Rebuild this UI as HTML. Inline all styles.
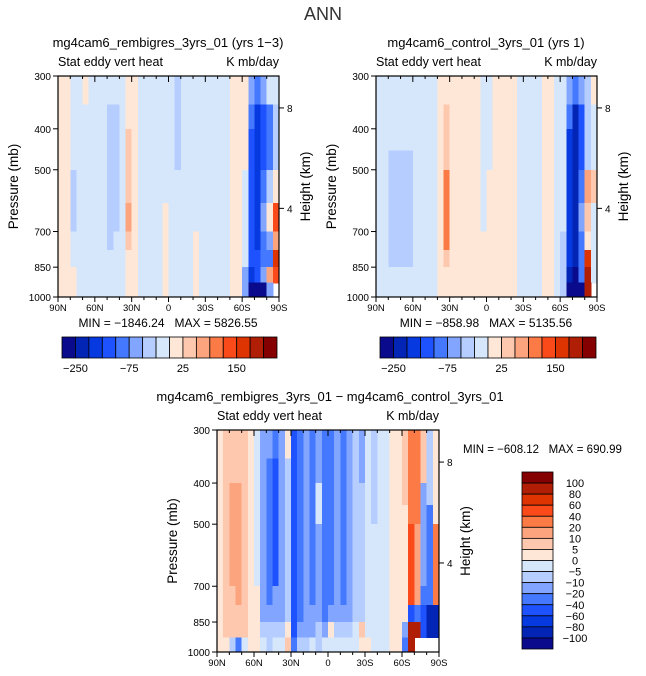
<!DOCTYPE html>
<html><head><meta charset="utf-8">
<style>
html,body{margin:0;padding:0;background:#fff;}
svg{display:block;font-family:"Liberation Sans","DejaVu Sans",sans-serif;}
</style></head>
<body>
<svg id="fig" width="646" height="676" viewBox="0 0 646 676" xmlns="http://www.w3.org/2000/svg">
<text x="323" y="20" font-size="18" text-anchor="middle" fill="#333">ANN</text>
</svg>
<script>
// ---- data ----
const lats = [87.5,82.5,77.5,72.5,67.5,62.5,57.5,52.5,47.5,42.5,37.5,32.5,27.5,22.5,17.5,12.5,7.5,2.5,-2.5,-7.5,-12.5,-17.5,-22.5,-27.5,-32.5,-37.5,-42.5,-47.5,-52.5,-57.5,-62.5,-67.5,-72.5,-77.5,-82.5,-87.5];
const pBounds = [300,350,400,450,500,600,700,775,850,925,1000];
const xTickVals = [90,60,30,0,-30,-60,-90];
const xTickLabels = ["90N","60N","30N","0","30S","60S","90S"];
const pTickVals = [300,400,500,700,850,1000];
const zTickP = [357,617];
const zTickLabels = ["8","4"];
const levelsTop = [-250,-200,-150,-100,-75,-50,-25,0,25,50,75,100,150,200,250];
const levelsDiff = [-100,-80,-60,-40,-20,-10,-5,0,5,10,20,40,60,80,100];
const topBarLabels = ["-250","-75","25","150"];
const diffBarLabels = ["100","80","60","40","20","10","5","0","-5","-10","-20","-40","-60","-80","-100"];
const palette = ["#0a0a8c","#0325b5","#0639e0","#1f52ff","#4479ff","#82a6ff","#b6cdff","#d6e7fc","#fee7d6","#fdc8ad","#fca47e","#fc7a45","#fb4a1a","#dd3402","#b01e05","#850000"];

// rows: 300-350 ... 925-1000 ; columns 90N -> 90S
const valsLeft = [
[10,10,-10,-10,10,-10,-10,-10,-10,-10,-10,10,10,-10,-10,-10,-10,-10,-10,-35,-10,-10,-10,-10,-10,-10,-10,-10,10,10,10,-60,-90,-60,-10,-10],
[10,10,-10,-10,-10,-10,-10,-10,-35,-35,-10,10,10,-10,-10,-10,-10,-10,-10,-35,-10,-10,-10,-10,-10,-10,-10,-10,10,10,10,-90,-170,-120,-90,-40],
[10,10,-10,-10,-10,-10,-10,-10,-35,-35,-10,35,10,-10,-10,-10,-10,-10,-10,-35,-10,-10,-10,-10,-10,-10,-10,-10,10,10,10,-120,-170,-120,-90,-40],
[10,10,-10,-10,-10,-10,-10,-10,-35,-35,-10,35,10,-10,-10,-10,-10,-10,-10,-35,-10,-10,-10,-10,-10,-10,-10,-10,10,10,10,-120,-170,-120,-90,-40],
[10,10,-35,-10,-10,-10,-10,-10,-35,-35,-10,35,10,-10,-10,-10,-10,-10,-10,-10,-10,-10,-10,-10,-10,-10,-10,-10,10,10,-10,-120,-170,-90,-40,10],
[10,10,-35,-10,-10,-10,-10,-10,-35,-35,-10,60,10,-10,-10,-10,-10,10,-10,-10,-10,-10,-10,-10,-10,-10,-10,-10,10,10,-10,-120,-170,-60,10,120],
[10,10,-10,-10,-10,-10,-10,-10,-35,-10,-10,35,10,-10,-10,-10,-10,10,-10,-10,-10,-10,10,-10,-10,-10,-10,-10,10,10,-10,-120,-170,-90,-60,60],
[10,10,-10,-10,-10,-10,-10,-10,-10,-10,-10,10,10,-10,-10,-10,-10,10,-10,-10,-10,-10,10,-10,-10,-10,-10,-10,10,10,-10,-120,-120,-90,-90,175],
[10,10,10,-10,-10,-10,-10,-10,-10,-10,-10,10,10,-10,-10,-10,-10,10,-10,-10,-10,-10,10,-10,-10,-10,-10,-10,10,10,-60,-170,-120,-60,60,120],
[10,10,10,-10,-10,-10,-10,-10,-10,-10,-10,10,10,-10,-10,-10,-10,10,-10,-10,-10,-10,10,-10,-10,-10,-10,-10,10,10,-60,-300,-300,-300,-60,null]
];
const valsRight = [
[-10,-10,-10,-10,-10,-10,-10,-10,-10,-10,10,10,10,10,10,10,10,-10,-10,10,10,10,10,-10,-10,-10,-10,10,10,-10,-10,-60,-90,-60,-35,10],
[-10,-10,-10,-10,-10,-10,-10,-10,-10,-10,10,40,10,10,10,10,10,-10,-10,10,10,10,10,-10,-10,-10,-10,10,10,-10,-10,-90,-220,-120,-35,-10],
[-10,-10,-10,-10,-10,-10,-10,-10,-10,-10,10,40,10,10,10,10,10,-10,-10,10,10,10,10,-10,-10,-10,-10,10,10,-10,-10,-170,-220,-120,-35,-10],
[-10,-10,-35,-35,-35,-35,-10,-10,-10,-10,10,40,10,10,10,10,10,-10,-10,10,10,10,10,-10,-10,-10,-10,10,10,-10,-10,-170,-220,-120,-35,-10],
[-10,-10,-35,-35,-35,-35,-10,-10,-10,-10,10,80,10,10,10,10,10,-10,10,10,10,10,10,-10,-10,-10,-10,10,10,-10,-10,-170,-220,-90,60,40],
[-10,-10,-35,-35,-35,-35,-10,-10,-10,-10,10,80,10,10,10,10,10,-10,10,10,10,10,10,-10,-10,-10,-10,10,10,-10,-10,-170,-220,-60,40,-10],
[-10,-10,-35,-35,-35,-35,-10,-10,-10,-10,10,80,10,10,10,10,10,10,10,10,10,10,10,-10,-10,-10,-10,10,10,-10,-35,-170,-220,-90,10,-10],
[-10,-10,-35,-35,-35,-35,-10,-10,-10,-10,10,40,10,10,10,10,10,10,10,10,10,10,10,-10,-10,-10,-10,10,10,-10,-35,-170,-220,-90,175,-10],
[-10,-10,-10,-10,-10,-10,-10,-10,-10,-10,10,10,10,10,10,10,10,10,10,10,10,10,10,-10,-10,-10,-10,10,10,-10,-35,-220,-300,-90,220,-10],
[-10,-10,-10,-10,-10,-10,-10,-10,-10,-10,10,10,10,10,10,10,10,10,10,10,10,10,10,-10,-10,-10,-10,10,10,-10,-35,-300,-300,-300,220,null]
];
const valsDiff = [
[3,7,7,7,7,3,-3,-15,-15,-30,-15,3,-50,-30,-15,-30,-15,-30,-30,-15,-30,-15,-8,-15,-3,-8,-3,-3,3,3,7,30,30,7,-8,3],
[3,7,7,7,7,3,-3,-15,-30,-50,-15,-8,-50,-30,-15,-30,-15,-30,-30,-15,-30,-15,-8,-15,-3,-8,-3,-3,3,3,7,30,30,7,-8,3],
[3,7,15,15,7,3,-3,-15,-30,-50,-15,-8,-50,-30,-15,-30,-3,-30,-30,-15,-30,-15,-8,-8,-3,-8,-3,-3,3,3,7,30,30,-15,-8,3],
[3,7,15,15,7,3,-3,-15,-30,-50,-15,-8,-50,-30,-15,-30,-3,-30,-30,-15,-30,-15,-8,-8,-3,-8,-3,-3,3,3,3,30,30,-15,-40,3],
[3,7,15,15,7,3,-3,-15,-30,-50,-15,-8,-50,-30,-15,-30,-15,-30,-30,-15,-30,-15,-8,-8,-3,-3,-3,-3,3,3,3,50,15,-15,-40,30],
[3,7,15,15,7,3,-3,-15,-30,-50,-15,-8,-50,-30,-15,-30,-15,-30,-30,-15,-30,-15,-8,-8,-3,-3,-3,-3,3,3,3,50,15,-15,-40,30],
[3,7,7,15,7,3,3,-15,-30,-15,-15,-8,-50,-30,-15,-30,-15,-30,-30,-15,-30,-15,-8,-8,-3,-3,-3,-3,3,3,3,50,15,-40,-40,30],
[3,7,7,7,7,3,3,-15,-15,-15,-15,-8,-50,-30,-15,-15,-15,-30,-15,-15,-15,-15,-8,-8,-3,-3,-3,-3,3,3,3,-50,-30,-60,-90,-90],
[3,7,7,7,7,3,3,-8,-8,-8,-8,3,-50,-15,-15,-15,-8,-15,3,-8,-8,-8,-3,7,-3,-3,-3,-3,3,3,-15,90,90,-60,-90,-90],
[3,3,-8,-30,-3,3,3,-3,-8,-3,-3,7,-30,-8,-8,-3,-8,-3,-3,-3,-3,-3,-3,3,3,-3,-3,-3,3,3,-30,90,null,null,null,null]
];

// ---- drawing ----
const NS = "http://www.w3.org/2000/svg";
const svg = document.getElementById("fig");
function mk(tag, attrs, parent){
  const e = document.createElementNS(NS, tag);
  for (const k in attrs) e.setAttribute(k, attrs[k]);
  (parent||svg).appendChild(e);
  return e;
}
function colorFor(v, levels){
  let i = 0;
  while (i < levels.length && v >= levels[i]) i++;
  return palette[i];
}
function txt(x,y,s,size,anchor,parent,rot){
  const t = mk("text",{x:x,y:y,"font-size":size,"text-anchor":anchor||"start",fill:"#000"},parent);
  t.setAttribute("xml:space","preserve");
  t.style.whiteSpace = "pre";
  if (rot) t.setAttribute("transform","rotate(-90 "+x+" "+y+")");
  t.textContent = s;
  return t;
}

function drawPanel(cfg){
  const g = mk("g",{});
  
  
  const W = cfg.w, H = cfg.h, x0 = cfg.x, y0 = cfg.y;
  const xS = lat => x0 + (90 - lat) / 180 * W;
  const yS = p => y0 + Math.log(p/300) / Math.log(1000/300) * H;
  const cells = mk("g",{"shape-rendering":"crispEdges"},g);
  
  
  for (let r = 0; r < cfg.vals.length; r++){
    for (let c = 0; c < lats.length; c++){
      const v = cfg.vals[r][c];
      if (v === null) continue;
      const xa = xS(lats[c] + 2.5), xb = xS(lats[c] - 2.5);
      const ya = yS(pBounds[r]), yb = yS(pBounds[r+1]);
      const rc = mk("rect",{x:xa,y:ya,width:xb-xa+0.6,height:yb-ya+0.6,fill:colorFor(v,cfg.levels)},cells);
      
      
    }
  }
  const frame = mk("rect",{x:x0,y:y0,width:W,height:H,fill:"none",stroke:"#000","stroke-width":1.2},g);
  
  
  for (let i = 0; i < xTickVals.length; i++){
    const x = xS(xTickVals[i]);
    mk("line",{x1:x,y1:y0+H,x2:x,y2:y0+H+5,stroke:"#000"},g);
    mk("line",{x1:x,y1:y0,x2:x,y2:y0+6,stroke:"#000"},g);
    const t = txt(x, y0+H+14, xTickLabels[i], 9.5, "middle", g);
    
    
  }
  for (let l = 80; l > -90; l -= 10){
    if (l % 30 === 0) continue;
    const x = xS(l);
    mk("line",{x1:x,y1:y0+H,x2:x,y2:y0+H+3,stroke:"#000"},g);
    mk("line",{x1:x,y1:y0,x2:x,y2:y0+3,stroke:"#000"},g);
  }
  for (let i = 0; i < pTickVals.length; i++){
    const y = yS(pTickVals[i]);
    mk("line",{x1:x0-5,y1:y,x2:x0,y2:y,stroke:"#000"},g);
    const t = txt(x0-7, y+4, String(pTickVals[i]), 10, "end", g);
    
    
  }
  for (let i = 0; i < zTickP.length; i++){
    const y = yS(zTickP[i]);
    mk("line",{x1:x0+W,y1:y,x2:x0+W+5,y2:y,stroke:"#000"},g);
    const t = txt(x0+W+8, y+4, zTickLabels[i], 10, "start", g);
    
    
  }
  const yl = txt(x0-40, y0+H/2, "Pressure (mb)", 13.5, "middle", g, true);
  
  
  const yr = txt(x0+W+31, y0+H/2, "Height (km)", 13.5, "middle", g, true);
  
  
  const l1 = txt(x0, y0-10, "Stat eddy vert heat", 12.5, "start", g);
  
  
  const l2 = txt(x0+W, y0-10, "K mb/day", 12.5, "end", g);
  
  
  const st = txt(cfg.titleX, y0-29, cfg.title, 13, "middle", g);
  
  
  return g;
}

function hBar(x0, y0, w, h){
  const g = mk("g",{});
  
  
  const bw = w / palette.length;
  for (let i = 0; i < palette.length; i++){
    const b = mk("rect",{x:x0+i*bw,y:y0,width:bw,height:h,fill:palette[i],stroke:"#000","stroke-width":0.8},g);
    
    
  }
  for (let k = 0; k < topBarLabels.length; k++){
    const bi = levelsTop.indexOf(Number(topBarLabels[k])) + 1;
    const t = txt(x0+bi*bw, y0+h+14, topBarLabels[k].replace("-","\u2212"), 11, "middle", g);
    
    
  }
}
function vBar(x0, y0, w, h){
  const g = mk("g",{});
  
  
  const bh = h / palette.length;
  for (let i = 0; i < palette.length; i++){
    const b = mk("rect",{x:x0,y:y0+i*bh,width:w,height:bh,fill:palette[palette.length-1-i],stroke:"#000","stroke-width":0.8},g);
    
    
  }
  for (let k = 0; k < diffBarLabels.length; k++){
    const t = txt(x0+w+22, y0+(k+1)*bh+4, diffBarLabels[k].replace("-","\u2212"), 11, "middle", g);
    
    
  }
}

drawPanel({name:"panel-rembigres",x:58,y:76,w:221,h:221,vals:valsLeft,levels:levelsTop,title:"mg4cam6_rembigres_3yrs_01 (yrs 1\u22123)",titleX:168});
drawPanel({name:"panel-control",x:376,y:76,w:221,h:221,vals:valsRight,levels:levelsTop,title:"mg4cam6_control_3yrs_01 (yrs 1)",titleX:486});
drawPanel({name:"panel-difference",x:217,y:430,w:222,h:222,vals:valsDiff,levels:levelsDiff,title:"mg4cam6_rembigres_3yrs_01 \u2212 mg4cam6_control_3yrs_01",titleX:330});

const m1 = txt(168, 327, "MIN = \u22121846.24   MAX = 5826.55", 12, "middle");


const m2 = txt(486, 327, "MIN = \u2212858.98   MAX = 5135.56", 12, "middle");


const m3 = txt(463, 453, "MIN = \u2212608.12   MAX = 690.99", 11.5, "start");



hBar(62, 337, 215, 21);
hBar(380, 337, 216, 21);
vBar(522, 472, 31, 177);
</script>
</body></html>
